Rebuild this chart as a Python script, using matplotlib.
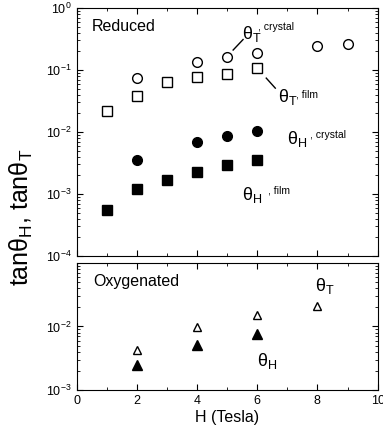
import numpy as np
from matplotlib import pyplot as plt
from matplotlib.ticker import LogLocator, MultipleLocator, NullFormatter

plt.rcParams['font.family'] = ['Liberation Sans', 'DejaVu Sans']
plt.rcParams['mathtext.fontset'] = 'custom'
plt.rcParams['mathtext.rm'] = 'Liberation Sans'
plt.rcParams['mathtext.it'] = 'Liberation Sans:italic'

# reduced sample
H_tc = [2, 4, 5, 6, 8, 9]
thT_crystal = [0.075, 0.137, 0.165, 0.187, 0.245, 0.26]
H_tf = [1, 2, 3, 4, 5, 6]
thT_film = [0.022, 0.038, 0.063, 0.078, 0.087, 0.109]
H_hc = [2, 4, 5, 6]
thH_crystal = [0.0035, 0.0068, 0.0086, 0.0105]
H_hf = [1, 2, 3, 4, 5, 6]
thH_film = [0.00056, 0.0012, 0.0017, 0.0023, 0.0029, 0.0035]

# oxygenated sample
H_ox = [2, 4, 6, 8]
thT_ox = [0.0043, 0.0098, 0.015, 0.021]
H_oxh = [2, 4, 6]
thH_ox = [0.0025, 0.0052, 0.0075]

fig = plt.figure(figsize=(3.83, 4.34), dpi=100)
ax1 = fig.add_axes([0.2, 0.41, 0.786, 0.5716])
ax2 = fig.add_axes([0.2, 0.1014, 0.786, 0.2926])

ax1.plot(H_tc, thT_crystal, 'o', mfc='white', mec='black', ms=7, mew=1)
ax1.plot(H_tf, thT_film, 's', mfc='white', mec='black', ms=6.5, mew=1)
ax1.plot(H_hc, thH_crystal, 'o', color='black', ms=7)
ax1.plot(H_hf, thH_film, 's', color='black', ms=6.5)

ax2.plot(H_ox, thT_ox, '^', mfc='white', mec='black', ms=6, mew=1)
ax2.plot(H_oxh, thH_ox, '^', color='black', ms=6.5)

for ax in (ax1, ax2):
    ax.set_yscale('log')
    ax.set_xlim(0, 10)
    ax.xaxis.set_major_locator(MultipleLocator(2))
    ax.xaxis.set_minor_locator(MultipleLocator(1))
    ax.yaxis.set_minor_locator(LogLocator(base=10, subs=np.arange(2, 10), numticks=20))
    ax.yaxis.set_minor_formatter(NullFormatter())
    ax.tick_params(which='both', direction='in', top=True, right=True, labelsize=9)
    ax.tick_params(which='major', length=4)
    ax.tick_params(which='minor', length=2)

ax1.set_ylim(1e-4, 1)
ax1.set_yticks([1e-4, 1e-3, 1e-2, 1e-1, 1])
ax1.tick_params(labelbottom=False)
ax2.set_ylim(1e-3, 0.1)
ax2.set_yticks([1e-3, 1e-2])
ax2.set_xlabel('H (Tesla)', fontsize=11.5, labelpad=2)

fig.text(0.055, 0.50, r'tanθ$_{\rm H}$, tanθ$_{\rm T}$', rotation=90,
         fontsize=18, ha='center', va='center')

ax1.text(0.51, 0.51, 'Reduced', fontsize=11.5, va='center')
ax1.text(5.49, 0.38, r'θ$_{\rm T}$', fontsize=13, va='center')
ax1.text(6.03, 0.49, ', crystal', fontsize=7.5, va='center')
ax1.plot([5.2, 5.53], [0.21, 0.31], color='black', lw=1)
ax1.text(6.69, 0.037, r'θ$_{\rm T}$', fontsize=13, va='center')
ax1.text(7.29, 0.041, ', film', fontsize=7.5, va='center')
ax1.plot([6.3, 6.6], [0.074, 0.051], color='black', lw=1)
ax1.text(6.99, 0.0076, r'θ$_{\rm H}$', fontsize=13, va='center')
ax1.text(7.75, 0.0089, ', crystal', fontsize=7.5, va='center')
ax1.text(5.49, 0.00098, r'θ$_{\rm H}$', fontsize=13, va='center')
ax1.text(6.36, 0.00116, ', film', fontsize=7.5, va='center')

ax2.text(0.54, 0.051, 'Oxygenated', fontsize=11.5, va='center')
ax2.text(7.92, 0.044, r'θ$_{\rm T}$', fontsize=13, va='center')
ax2.text(5.99, 0.0029, r'θ$_{\rm H}$', fontsize=13, va='center')

fig.savefig('out.png', dpi=100)
